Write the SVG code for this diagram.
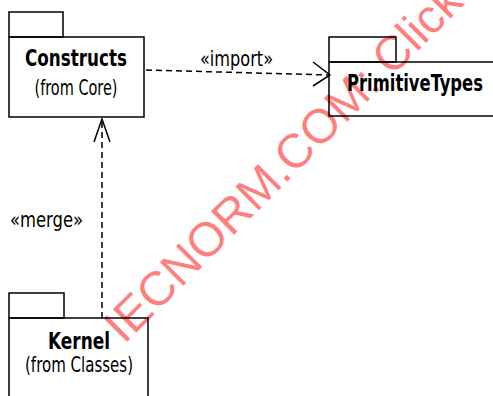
<svg xmlns="http://www.w3.org/2000/svg" width="493" height="396" viewBox="0 0 493 396">
  <style>
    .pkg { fill: none; stroke: #000; stroke-width: 1.5; }
    .name { font-family: "DejaVu Sans Condensed", "DejaVu Sans", sans-serif; font-weight: bold; font-size: 23px; fill: #000; }
    .sub { font-family: "DejaVu Sans Condensed", "DejaVu Sans", sans-serif; font-size: 22px; fill: #000; }
    .lbl { font-family: "DejaVu Sans Condensed", "DejaVu Sans", sans-serif; font-size: 22px; fill: #000; }
    .dep { fill: none; stroke: #000; stroke-width: 1.5; stroke-dasharray: 6 4; }
    .head { fill: none; stroke: #000; stroke-width: 1.5; }
    .mark { font-family: "Liberation Sans", Arial, sans-serif; font-size: 48px; fill: #ff0000; fill-opacity: 0.5; }
  </style>

  <rect width="493" height="396" fill="#fff"/>

  <!-- diagonal stamp text -->
  <text class="mark" x="124" y="345" transform="rotate(-45 124 345)">IECNORM.COM: Click</text>

  <g id="constructs">
    <rect class="pkg" x="9" y="12" width="54" height="25"/>
    <rect class="pkg" x="9" y="37" width="135" height="80"/>
    <text class="name" x="76" y="66" text-anchor="middle" textLength="102" lengthAdjust="spacingAndGlyphs">Constructs</text>
    <text class="sub" x="76" y="95" text-anchor="middle" textLength="83" lengthAdjust="spacingAndGlyphs">(from Core)</text>
  </g>

  <g id="primitivetypes">
    <rect class="pkg" x="329" y="37" width="67" height="25"/>
    <rect class="pkg" x="329" y="62" width="180" height="54"/>
    <text class="name" x="415" y="91" text-anchor="middle" textLength="136" lengthAdjust="spacingAndGlyphs">PrimitiveTypes</text>
  </g>

  <g id="kernel">
    <rect class="pkg" x="9" y="293" width="55" height="25"/>
    <rect class="pkg" x="9" y="318" width="139" height="90"/>
    <text class="name" x="79" y="349" text-anchor="middle" textLength="62" lengthAdjust="spacingAndGlyphs">Kernel</text>
    <text class="sub" x="79" y="372" text-anchor="middle" textLength="108" lengthAdjust="spacingAndGlyphs">(from Classes)</text>
  </g>

  <g id="connectors">
    <!-- import dependency -->
    <line class="dep" x1="146" y1="70" x2="329" y2="75"/>
    <polyline class="head" points="313,62 330,75 313,86"/>
    <text class="lbl" x="200" y="66" textLength="73" lengthAdjust="spacingAndGlyphs">«import»</text>

    <!-- merge dependency -->
    <line class="dep" x1="102" y1="318" x2="102" y2="120"/>
    <polyline class="head" points="94,142 102,119 110,142"/>
    <text class="lbl" x="10" y="227" textLength="73" lengthAdjust="spacingAndGlyphs">«merge»</text>
  </g>
</svg>
